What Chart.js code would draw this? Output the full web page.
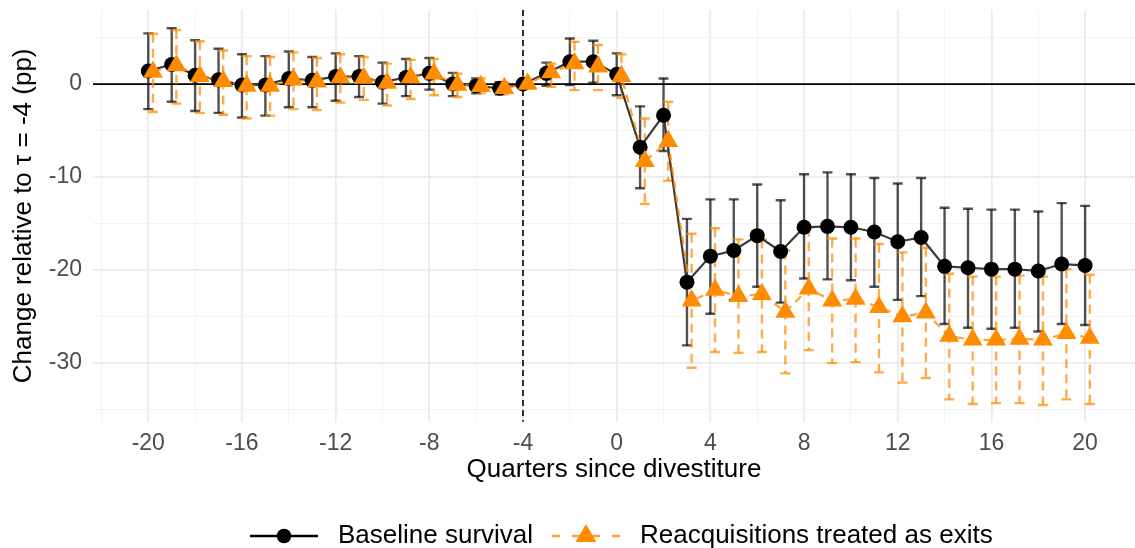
<!DOCTYPE html>
<html>
<head>
<meta charset="utf-8">
<script src="https://cdn.jsdelivr.net/npm/chart.js@4.4.1/dist/chart.umd.min.js"></script>
<style>
  html, body { margin: 0; padding: 0; background: #ffffff; }
  canvas { display: block; }
</style>
</head>
<body>
<canvas id="chart" width="1135" height="548" style="width:1135px;height:548px"></canvas>
<script>
// Event-study estimates by quarter relative to the divestiture
const quarters = [-20,-19,-18,-17,-16,-15,-14,-13,-12,-11,-10,-9,-8,-7,-6,-5,-4,-3,-2,-1,
                  0,1,2,3,4,5,6,7,8,9,10,11,12,13,14,15,16,17,18,19,20];

// Baseline survival: point estimate and 95% CI bounds (pp)
const baselineEst = [1.4,2.1,0.95,0.45,-0.1,-0.1,0.6,0.4,0.8,0.8,0.2,0.7,1.15,0.0,-0.2,-0.45,0,1.15,2.4,2.4,
                     1.05,-6.8,-3.35,-21.3,-18.5,-17.9,-16.3,-18.0,-15.4,-15.3,-15.4,-15.9,-16.95,-16.5,-19.6,-19.75,-19.9,-19.9,-20.1,-19.35,-19.5];
const baselineLo  = [-2.7,-1.9,-2.9,-3.1,-3.6,-3.4,-2.5,-2.5,-1.8,-1.4,-2.1,-1.3,-0.6,-1.3,-1.0,-1.1,0,-0.2,-0.1,0.15,
                     -1.2,-11.2,-7.2,-28.1,-24.7,-23.2,-21.8,-23.5,-20.9,-21.0,-21.1,-21.8,-23.2,-22.8,-25.8,-26.2,-26.3,-26.2,-26.6,-25.8,-25.9];
const baselineHi  = [5.45,6.0,4.7,3.8,3.2,3.0,3.5,2.9,3.3,3.0,2.3,2.7,2.8,1.2,0.6,0.2,0,2.3,4.9,4.65,
                     3.3,-2.4,0.6,-14.5,-12.4,-12.4,-10.8,-12.5,-9.7,-9.5,-9.7,-10.1,-10.7,-10.1,-13.3,-13.4,-13.5,-13.5,-13.7,-12.8,-13.1];

// Reacquisitions treated as exits: point estimate and 95% CI bounds (pp)
const reacqEst = [1.3,2.0,0.85,0.3,-0.2,-0.2,0.45,0.25,0.7,0.65,0.1,0.7,1.1,-0.1,-0.25,-0.45,0,1.25,2.2,1.85,
                  0.85,-8.3,-6.15,-23.3,-22.15,-22.8,-22.6,-24.5,-22.0,-23.3,-23.1,-24.0,-25.0,-24.6,-27.1,-27.5,-27.5,-27.4,-27.5,-26.8,-27.3];
const reacqLo  = [-3.0,-2.1,-3.1,-3.3,-3.7,-3.4,-2.7,-2.8,-2.0,-1.7,-2.3,-1.6,-1.2,-1.4,-1.0,-1.1,0,-0.3,-0.65,-0.65,
                  -1.5,-12.9,-10.4,-30.5,-28.8,-28.9,-28.8,-31.1,-28.6,-30.0,-29.9,-31.0,-32.1,-31.6,-33.9,-34.4,-34.3,-34.3,-34.5,-33.9,-34.4];
const reacqHi  = [5.4,5.8,4.6,3.6,3.0,2.9,3.4,2.8,3.2,2.9,2.2,2.6,2.7,1.1,0.6,0.2,0,2.2,4.55,4.2,
                  3.2,-3.7,-1.9,-16.1,-15.5,-16.7,-16.7,-17.9,-15.4,-16.6,-16.6,-17.2,-18.1,-17.6,-20.4,-20.7,-20.7,-20.6,-20.7,-19.9,-20.5];

// Axis ticks and labels
const xGridValues = [-22,-20,-18,-16,-14,-12,-10,-8,-6,-4,-2,0,2,4,6,8,10,12,14,16,18,20,22];
const xTickLabels = [-20,-16,-12,-8,-4,0,4,8,12,16,20];
const yGridValues = [-35,-30,-25,-20,-15,-10,-5,0,5];
const yTickLabels = [0,-10,-20,-30];
const seriesNames = ['Baseline survival', 'Reacquisitions treated as exits'];
const referenceQuarter = -4;

// Horizontal dodge so the two series do not overlap
const dodge = 0.2;

const FONT = "'Liberation Sans', Arial, Helvetica, sans-serif";
const BLACK_PT = '#000000';
const BLACK_LINE = '#3a3a3a';
const BLACK_BAR = 'rgba(0,0,0,0.68)';
const ORANGE_PT = '#ff8c00';
const ORANGE_LINE = 'rgba(255,140,0,0.8)';
const ORANGE_BAR = 'rgba(255,140,0,0.72)';

const toPoints = (xs, ys, dx) => xs.map((q, i) => ({ x: q + dx, y: ys[i] }));

// Error bars and reference lines, drawn beneath the series
const intervalPlugin = {
  id: 'intervals',
  beforeDatasetsDraw(chart) {
    const { ctx, chartArea, scales: { x, y } } = chart;
    ctx.save();
    ctx.beginPath();
    ctx.rect(chartArea.left, chartArea.top, chartArea.right - chartArea.left, chartArea.bottom - chartArea.top);
    ctx.clip();

    // zero line
    ctx.strokeStyle = '#000000';
    ctx.lineWidth = 1.8;
    ctx.setLineDash([]);
    const y0 = y.getPixelForValue(0);
    ctx.beginPath();
    ctx.moveTo(chartArea.left, y0);
    ctx.lineTo(chartArea.right, y0);
    ctx.stroke();

    // reference quarter
    const xr = x.getPixelForValue(referenceQuarter);
    ctx.lineWidth = 1.6;
    ctx.setLineDash([6, 4]);
    ctx.beginPath();
    ctx.moveTo(xr, chartArea.top);
    ctx.lineTo(xr, chartArea.bottom);
    ctx.stroke();

    const drawBars = (lo, hi, dx, color, dash) => {
      ctx.strokeStyle = color;
      ctx.lineWidth = 2.4;
      quarters.forEach((q, i) => {
        if (lo[i] === hi[i]) return;
        const px = x.getPixelForValue(q + dx);
        const pLo = y.getPixelForValue(lo[i]);
        const pHi = y.getPixelForValue(hi[i]);
        ctx.setLineDash(dash);
        ctx.beginPath();
        ctx.moveTo(px, pHi);
        ctx.lineTo(px, pLo);
        ctx.stroke();
        ctx.setLineDash([]);
        ctx.beginPath();
        ctx.moveTo(px - 5, pHi); ctx.lineTo(px + 5, pHi);
        ctx.moveTo(px - 5, pLo); ctx.lineTo(px + 5, pLo);
        ctx.stroke();
      });
    };
    drawBars(baselineLo, baselineHi, 0, BLACK_BAR, []);
    drawBars(reacqLo, reacqHi, dodge, ORANGE_BAR, [9, 6]);
    ctx.restore();
  }
};

// Legend beneath the axis title
const legendPlugin = {
  id: 'bottomLegend',
  afterDraw(chart) {
    const { ctx } = chart;
    const cy = 536;
    ctx.save();
    // baseline key
    ctx.strokeStyle = '#000000';
    ctx.lineWidth = 2.4;
    ctx.setLineDash([]);
    ctx.beginPath(); ctx.moveTo(250, cy); ctx.lineTo(318, cy); ctx.stroke();
    ctx.fillStyle = BLACK_PT;
    ctx.beginPath(); ctx.arc(284, cy, 7.3, 0, Math.PI * 2); ctx.fill();
    // reacquisition key
    ctx.strokeStyle = ORANGE_LINE;
    ctx.setLineDash([8, 12]);
    ctx.beginPath(); ctx.moveTo(552, cy); ctx.lineTo(620, cy); ctx.stroke();
    ctx.setLineDash([]);
    ctx.fillStyle = ORANGE_PT;
    const r = 12;
    ctx.beginPath();
    ctx.moveTo(586, cy - r);
    ctx.lineTo(586 + r * Math.sin(2 * Math.PI / 3), cy - r * Math.cos(2 * Math.PI / 3));
    ctx.lineTo(586 + r * Math.sin(4 * Math.PI / 3), cy - r * Math.cos(4 * Math.PI / 3));
    ctx.closePath();
    ctx.fill();
    // labels
    ctx.fillStyle = '#000000';
    ctx.font = `26px ${FONT}`;
    ctx.textBaseline = 'middle';
    ctx.textAlign = 'left';
    ctx.fillText(seriesNames[0], 338, cy);
    ctx.fillText(seriesNames[1], 640, cy);
    ctx.restore();
  }
};

const gridColor = (major) => major ? '#ebebeb' : '#f3f3f3';

new Chart(document.getElementById('chart'), {
  type: 'line',
  data: {
    datasets: [
      { // orange markers (top layer)
        label: seriesNames[1],
        data: toPoints(quarters, reacqEst, dodge),
        showLine: false,
        pointStyle: 'triangle',
        pointRadius: 11.5,
        pointBackgroundColor: ORANGE_PT,
        pointBorderWidth: 0,
        borderColor: ORANGE_PT
      },
      { // black markers
        label: seriesNames[0],
        data: toPoints(quarters, baselineEst, 0),
        showLine: false,
        pointStyle: 'circle',
        pointRadius: 7.5,
        pointBackgroundColor: BLACK_PT,
        pointBorderWidth: 0,
        borderColor: BLACK_PT
      },
      { // orange dashed path
        data: toPoints(quarters, reacqEst, dodge),
        borderColor: ORANGE_LINE,
        borderWidth: 2.2,
        borderDash: [8, 6],
        pointRadius: 0,
        tension: 0,
        fill: false
      },
      { // black path
        data: toPoints(quarters, baselineEst, 0),
        borderColor: BLACK_LINE,
        borderWidth: 2.2,
        pointRadius: 0,
        tension: 0,
        fill: false
      }
    ]
  },
  options: {
    responsive: false,
    animation: false,
    devicePixelRatio: 1,
    layout: { autoPadding: false, padding: { left: 0, right: 0, top: 10, bottom: 62.4 } },
    plugins: { legend: { display: false }, tooltip: { enabled: false } },
    scales: {
      x: {
        type: 'linear',
        min: -22.36,
        max: 22.13,
        afterBuildTicks: (s) => { s.ticks = xGridValues.map(v => ({ value: v })); },
        afterFit: (s) => { s.height = 63.9; s.paddingLeft = 0; s.paddingRight = 0; },
        border: { display: false },
        grid: {
          drawTicks: false,
          color: (c) => gridColor(c.tick && c.tick.value % 4 === 0),
          lineWidth: (c) => (c.tick && c.tick.value % 4 === 0) ? 1.8 : 1.0
        },
        ticks: {
          autoSkip: false,
          maxRotation: 0,
          padding: 8,
          color: '#4d4d4d',
          font: { family: FONT, size: 23 },
          callback: (v) => xTickLabels.includes(v) ? String(v) : ''
        },
        title: {
          display: true,
          text: 'Quarters since divestiture',
          color: '#000000',
          font: { family: FONT, size: 26, lineHeight: 1.2 },
          padding: { top: 0, bottom: 0 }
        }
      },
      y: {
        type: 'linear',
        min: -36.3,
        max: 7.96,
        afterBuildTicks: (s) => { s.ticks = yGridValues.map(v => ({ value: v })); },
        afterFit: (s) => { s.width = 93; s.paddingTop = 0; s.paddingBottom = 0; },
        border: { display: false },
        grid: {
          drawTicks: false,
          color: (c) => gridColor(c.tick && c.tick.value % 10 === 0),
          lineWidth: (c) => (c.tick && c.tick.value % 10 === 0) ? 1.8 : 1.0
        },
        ticks: {
          autoSkip: false,
          padding: 11,
          color: '#4d4d4d',
          font: { family: FONT, size: 23 },
          callback: (v) => yTickLabels.includes(v) ? String(v) : ''
        },
        title: {
          display: true,
          text: 'Change relative to τ = -4 (pp)',
          color: '#000000',
          font: { family: FONT, size: 26, lineHeight: 1.2 },
          padding: { top: 8, bottom: 0 }
        }
      }
    }
  },
  plugins: [intervalPlugin, legendPlugin]
});
</script>
</body>
</html>
